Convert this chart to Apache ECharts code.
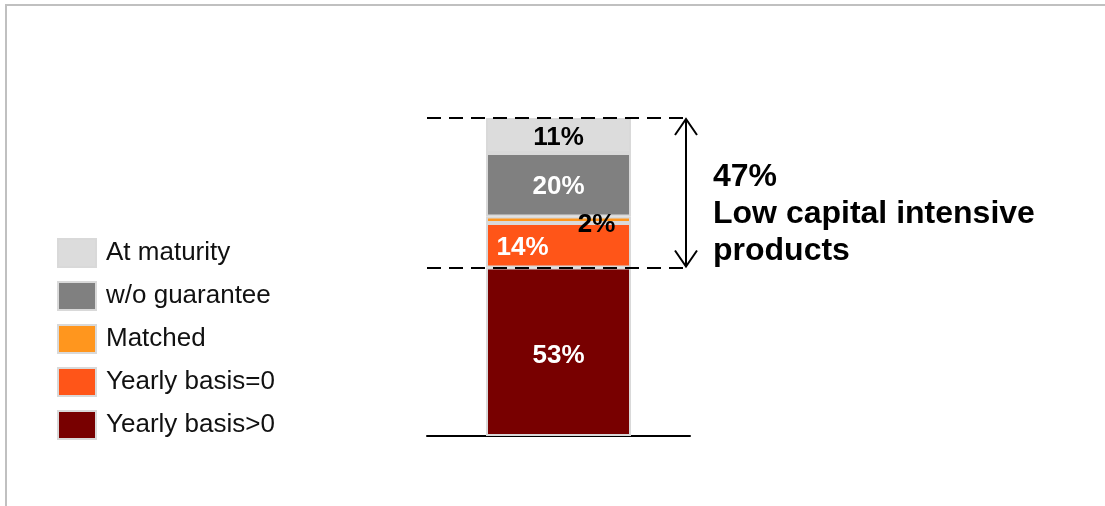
<!DOCTYPE html>
<html>
<head>
<meta charset="utf-8">
<script src="https://cdn.jsdelivr.net/npm/echarts@6/dist/echarts.min.js"></script>
<style>
    html, body { margin: 0; padding: 0; background: #fff; }
    #chart { width: 1105px; height: 506px; }
</style>
</head>
<body>
<div id="chart"></div>
<script>
// stacked from the bottom up
const seriesNames = ['Yearly basis>0', 'Yearly basis=0', 'Matched', 'w/o guarantee', 'At maturity'];
const seriesValues = [53, 14, 2, 20, 11];
const seriesColors = ['#780000', '#ff5518', '#ff961e', '#808080', '#dcdcdc'];
const labelColors = ['#fff', '#fff', '#000', '#fff', '#000'];
const labelOffsets = [[0, 4], [-36, 3], [38, 5], [0, 2], [0, 2]];
const categories = [''];

const lowCapital = seriesValues.slice(1).reduce((s, v) => s + v, 0);
const noteLines = [lowCapital + '%', 'Low capital intensive', 'products'];

const FONT = '"Liberation Sans", Arial, sans-serif';
const GRID = { left: 427, right: 415, top: 118, bottom: 70 };

const chart = echarts.init(document.getElementById('chart'));

const series = seriesNames.map((name, i) => {
    const s = {
        name: name,
        type: 'bar',
        stack: 'total',
        barWidth: 145,
        data: [seriesValues[i]],
        itemStyle: {
            color: seriesColors[i],
            borderColor: '#d9d9d9',
            borderWidth: 2
        },
        label: {
            show: true,
            position: 'inside',
            offset: labelOffsets[i],
            formatter: '{c}%',
            color: labelColors[i],
            fontFamily: FONT,
            fontWeight: 'bold',
            fontSize: 26
        }
    };
    if (i === 0) {
        s.markLine = {
            silent: true,
            symbol: 'none',
            label: { show: false },
            lineStyle: { color: '#000', type: [14, 8], width: 2 },
            data: [{ yAxis: seriesValues[0] }, { yAxis: 100 }]
        };
    }
    return s;
});

chart.setOption({
    animation: false,
    grid: GRID,
    legend: {
        orient: 'vertical',
        left: 57,
        top: 238,
        padding: 0,
        icon: 'rect',
        itemWidth: 38,
        itemHeight: 28,
        itemGap: 13,
        data: seriesNames.slice().reverse(),
        textStyle: {
            color: '#111',
            fontFamily: FONT,
            fontSize: 26,
            lineHeight: 28,
            padding: [0, 0, 0, 5]
        }
    },
    xAxis: {
        type: 'category',
        data: categories,
        axisLine: { show: true, lineStyle: { color: '#000', width: 2 } },
        axisTick: { show: false },
        axisLabel: { show: false }
    },
    yAxis: {
        type: 'value',
        min: 0,
        max: 100,
        show: false,
        splitLine: { show: false }
    },
    series: series
});

// arrow spanning the low capital share, plus the note text and the frame
const yTop = chart.convertToPixel({ yAxisIndex: 0 }, 100);
const yLow = chart.convertToPixel({ yAxisIndex: 0 }, seriesValues[0]);
const ax = chart.getWidth() - GRID.right - 4;
const arrowStyle = { stroke: '#000', lineWidth: 2, fill: null };

chart.setOption({
    graphic: [
        { type: 'line', shape: { x1: 6, y1: 5, x2: 1105, y2: 5 }, style: { stroke: '#c0c0c0', lineWidth: 2 } },
        { type: 'line', shape: { x1: 6, y1: 4, x2: 6, y2: 506 }, style: { stroke: '#c0c0c0', lineWidth: 2 } },
        { type: 'line', shape: { x1: ax, y1: yTop + 1, x2: ax, y2: yLow - 1 }, style: arrowStyle },
        { type: 'polyline', shape: { points: [[ax - 11, yTop + 17], [ax, yTop + 1], [ax + 11, yTop + 17]] }, style: arrowStyle },
        { type: 'polyline', shape: { points: [[ax - 11, yLow - 17], [ax, yLow - 1], [ax + 11, yLow - 17]] }, style: arrowStyle },
        {
            type: 'text',
            left: 713,
            top: 159,
            style: {
                text: noteLines.join('\n'),
                font: 'bold 32px ' + FONT,
                lineHeight: 37,
                fill: '#000'
            }
        }
    ]
});

window.addEventListener('resize', () => chart.resize());
</script>
</body>
</html>
